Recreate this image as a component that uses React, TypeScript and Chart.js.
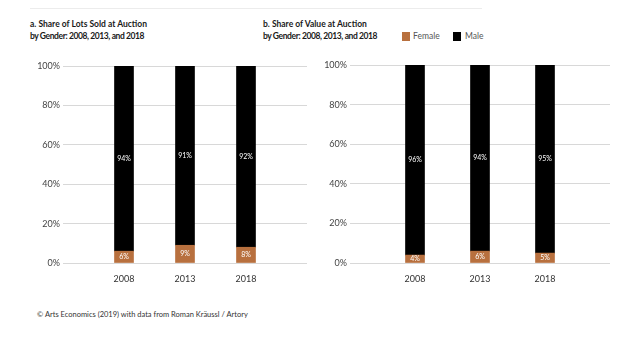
import React, { useEffect, useRef } from "react";
import { Chart, registerables } from "chart.js";

Chart.register(...registerables);

const years = ["", "2008", "2013", "2018", ""];
const lotsFemale = [null, 6, 9, 8, null];
const lotsMale = [null, 94, 91, 92, null];
const valueFemale = [null, 4, 6, 5, null];
const valueMale = [null, 96, 94, 95, null];
const yTicks = [0, 20, 40, 60, 80, 100];

const FEMALE = "#b8703e";
const MALE = "#000000";
const FONT = "Lato, 'Open Sans', sans-serif";

const labelPlugin = {
  id: "segLabels",
  afterDatasetsDraw(chart: any) {
    const ctx = chart.ctx;
    ctx.save();
    ctx.fillStyle = "#ffffff";
    ctx.font = `7px ${FONT}`;
    ctx.textAlign = "center";
    ctx.textBaseline = "middle";
    chart.data.datasets.forEach((ds: any, di: number) => {
      const meta = chart.getDatasetMeta(di);
      meta.data.forEach((el: any, i: number) => {
        const v = ds.data[i];
        if (v == null) return;
        const p = el.getProps(["x", "y", "base"], true);
        ctx.fillText(`${v}%`, p.x, (p.y + p.base) / 2);
      });
    });
    ctx.restore();
  },
};

function Panel(props: {
  left: number;
  female: (number | null)[];
  male: (number | null)[];
  yWidth: number;
  padRight: number;
  padTop: number;
}) {
  const ref = useRef<HTMLCanvasElement | null>(null);
  useEffect(() => {
    if (!ref.current) return;
    const chart = new Chart(ref.current, {
      type: "bar",
      data: {
        labels: years,
        datasets: [
          {
            label: "Female",
            data: props.female as any,
            backgroundColor: FEMALE,
            barThickness: 19,
            borderWidth: 0,
          },
          {
            label: "Male",
            data: props.male as any,
            backgroundColor: MALE,
            barThickness: 19,
            borderWidth: 0,
          },
        ],
      },
      options: {
        animation: false,
        responsive: false,
        maintainAspectRatio: false,
        layout: { padding: { left: 0, right: props.padRight, top: props.padTop, bottom: 0 } },
        plugins: { legend: { display: false }, tooltip: { enabled: false }, title: { display: false } },
        scales: {
          x: {
            type: "category",
            stacked: true,
            offset: false,
            grid: { display: false },
            border: { display: false },
            ticks: {
              autoSkip: false,
              maxRotation: 0,
              padding: 3,
              color: "#333",
              font: { family: FONT, size: 9 },
            },
            afterFit: (s: any) => {
              s.height = 27;
            },
          },
          y: {
            stacked: true,
            min: 0,
            max: 100,
            afterBuildTicks: (s: any) => {
              s.ticks = yTicks.map((v) => ({ value: v }));
            },
            grid: { color: "#d8d8d8", lineWidth: 1, drawTicks: false },
            border: { display: false },
            ticks: {
              padding: 3,
              color: "#444",
              font: { family: FONT, size: 9 },
              callback: (v: any) => `${v}%`,
            },
            afterFit: (s: any) => {
              s.width = props.yWidth;
            },
          },
        },
      },
      plugins: [labelPlugin],
    });
    return () => chart.destroy();
  }, []);
  return (
    <div style={{ position: "absolute", left: props.left, top: 55, width: 320, height: 235 }}>
      <canvas ref={ref} width={320} height={235} style={{ width: 320, height: 235 }} />
    </div>
  );
}

const titleStyle: React.CSSProperties = {
  position: "absolute",
  fontFamily: FONT,
  fontWeight: 700,
  fontSize: 8.5,
  lineHeight: "12px",
  color: "#1a1a1a",
  whiteSpace: "nowrap",
};

export default function App() {
  return (
    <div
      style={{
        position: "fixed",
        left: 0,
        top: 0,
        width: 640,
        height: 350,
        background: "#fff",
        overflow: "hidden",
      }}
    >
      <div style={{ position: "absolute", left: 30, top: 8, width: 452, height: 1, background: "#ececec" }} />
      <div style={{ ...titleStyle, left: 30, top: 18 }}>
        a. Share of Lots Sold at Auction
        <br />
        <span style={{ letterSpacing: "-0.4px" }}>by Gender: 2008, 2013, and 2018</span>
      </div>
      <div style={{ ...titleStyle, left: 263, top: 18 }}>
        b. Share of Value at Auction
        <br />
        <span style={{ letterSpacing: "-0.4px" }}>by Gender: 2008, 2013, and 2018</span>
      </div>
      <div style={{ position: "absolute", left: 402, top: 32, width: 8, height: 9, background: FEMALE }} />
      <div
        style={{ position: "absolute", left: 413, top: 31, fontFamily: FONT, fontSize: 8.5, lineHeight: "11px", color: "#555" }}
      >
        Female
      </div>
      <div style={{ position: "absolute", left: 453, top: 32, width: 8, height: 9, background: MALE }} />
      <div
        style={{ position: "absolute", left: 465, top: 31, fontFamily: FONT, fontSize: 8.5, lineHeight: "11px", color: "#555" }}
      >
        Male
      </div>
      <Panel left={0} female={lotsFemale} male={lotsMale} yWidth={63} padRight={13} padTop={11} />
      <Panel left={320} female={valueFemale} male={valueMale} yWidth={30} padRight={30} padTop={10} />
      <div
        style={{
          position: "absolute",
          left: 37,
          top: 310,
          fontFamily: FONT,
          fontSize: 7.5,
          lineHeight: "10px",
          color: "#333",
          whiteSpace: "nowrap",
        }}
      >
        © Arts Economics (2019) with data from Roman Kräussl / Artory
      </div>
    </div>
  );
}
